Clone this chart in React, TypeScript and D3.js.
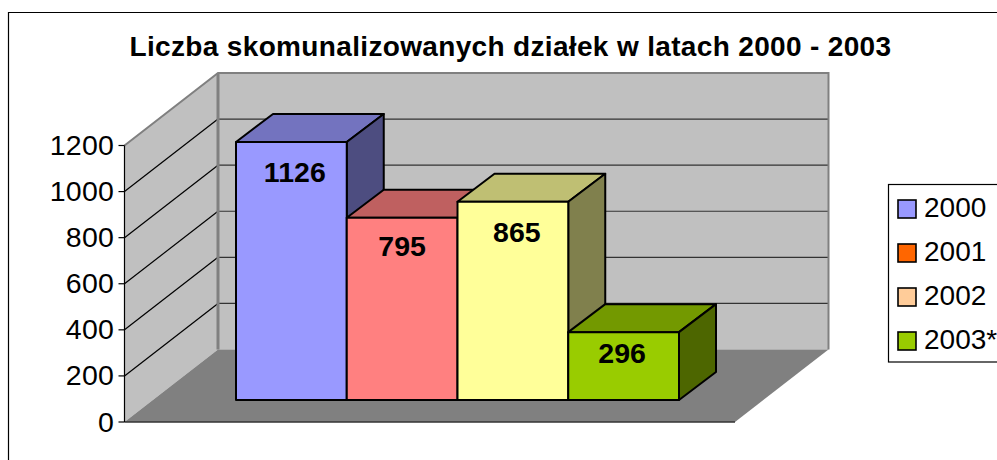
import React from "react";
import * as d3 from "d3";

const title = "Liczba skomunalizowanych działek w latach 2000 - 2003";
const categories = ["2000", "2001", "2002", "2003*"];
const values = [1126, 795, 865, 296];
const barColors = ["#9999ff", "#ff8080", "#ffff99", "#99cc00"];
const topColors = ["#7373bf", "#bf6060", "#bfbf73", "#739900"];
const sideColors = ["#4d4d80", "#804040", "#80804d", "#4d6600"];
const legendColors = ["#9999ff", "#ff6600", "#ffcc99", "#99cc00"];
const ticks = [0, 200, 400, 600, 800, 1000, 1200];
const labelNudge = [3.5, 0, 4, -1.5];
const labelDrop = [40, 38.5, 40, 31];

const FONT = "'Liberation Sans', Arial, sans-serif";
const axisX = 124.5;
const wallDx = 93.5;
const wallDy = 72.5;
const floorWidth = 610.5;
const barDx = 37;
const barDy = 28;
const barBase = 400;

const y = d3.scaleLinear().domain([0, 1200]).range([422, 145.5]);
const barHeight = d3.scaleLinear().domain([0, 1200]).range([0, 275]);
const x = d3.scaleBand<string>().domain(categories).range([236, 679]).padding(0);

const pts = (p: [number, number][]) => p.map((q) => q.join(",")).join(" ");

export default function App() {
  const backL = axisX + wallDx;
  const backR = backL + floorWidth;
  const y0 = y(0);
  const yTop = y(1200);
  return (
    <svg
      width={997}
      height={460}
      viewBox="0 0 997 460"
      style={{ position: "absolute", left: 0, top: 0, display: "block", background: "#fff" }}
      fontFamily={FONT}
    >
      <path d="M8.5 460V12.5H997" fill="none" stroke="#000" strokeWidth={1.2} />
      <text x={510.5} y={56} textAnchor="middle" fontSize={28} letterSpacing={0.34} fontWeight="bold" fill="#000">
        {title}
      </text>

      {/* walls */}
      <polygon
        points={pts([[backL, yTop - wallDy], [backR, yTop - wallDy], [backR, y0 - wallDy], [backL, y0 - wallDy]])}
        fill="#c0c0c0"
      />
      <polygon
        points={pts([[axisX, yTop], [backL, yTop - wallDy], [backL, y0 - wallDy], [axisX, y0]])}
        fill="#c0c0c0"
      />
      <polygon
        points={pts([[axisX, y0], [axisX + floorWidth, y0], [backR, y0 - wallDy], [backL, y0 - wallDy]])}
        fill="#808080"
      />
      {ticks.slice(1, -1).map((t) => (
        <g key={t} fill="none" stroke="#000" strokeWidth={1.2}>
          <line x1={axisX} y1={y(t)} x2={backL} y2={y(t) - wallDy} />
          <line x1={backL} y1={y(t) - wallDy} x2={backR} y2={y(t) - wallDy} stroke="#333" />
        </g>
      ))}
      <polyline
        points={pts([[axisX, yTop], [backL, yTop - wallDy], [backR, yTop - wallDy], [backR, y0 - wallDy]])}
        fill="none"
        stroke="#808080"
        strokeWidth={2}
      />
      <line x1={backL} y1={yTop - wallDy} x2={backL} y2={y0 - wallDy} stroke="#808080" strokeWidth={3} />
      <line x1={axisX} y1={y0} x2={axisX + floorWidth} y2={y0} stroke="#333" strokeWidth={1.4} />
      <line x1={axisX} y1={yTop} x2={axisX} y2={y0} stroke="#000" strokeWidth={1.2} />

      {/* y axis */}
      {ticks.map((t) => (
        <g key={t}>
          <line x1={axisX - 6} y1={y(t)} x2={axisX} y2={y(t)} stroke="#000" strokeWidth={1.2} />
          <text x={114} y={y(t) + 9.5} textAnchor="end" fontSize={28.5} letterSpacing={0.2} fill="#000">
            {t}
          </text>
        </g>
      ))}

      {/* bars */}
      {categories.map((c, i) => {
        const l = x(c)!;
        const r = l + x.bandwidth();
        const t = barBase - barHeight(values[i]);
        return (
          <g key={c} stroke="#000" strokeWidth={2} strokeLinejoin="round">
            <polygon
              points={pts([[l, t], [l + barDx, t - barDy], [r + barDx, t - barDy], [r, t]])}
              fill={topColors[i]}
            />
            <polygon
              points={pts([[r, t], [r + barDx, t - barDy], [r + barDx, barBase - barDy], [r, barBase]])}
              fill={sideColors[i]}
            />
            <rect x={l} y={t} width={x.bandwidth()} height={barBase - t} fill={barColors[i]} />
          </g>
        );
      })}
      {categories.map((c, i) => (
        <text
          key={c}
          x={x(c)! + x.bandwidth() / 2 + labelNudge[i]}
          y={barBase - barHeight(values[i]) + labelDrop[i]}
          textAnchor="middle"
          fontSize={28.5}
          letterSpacing={0.1}
          fontWeight="bold"
          fill="#000"
        >
          {values[i]}
        </text>
      ))}

      {/* legend */}
      <rect x={888.5} y={184.5} width={120} height={177.5} fill="#fff" stroke="#000" strokeWidth={1.2} />
      {categories.map((c, i) => {
        const cy = 209 + i * 44;
        return (
          <g key={c}>
            <rect x={898} y={cy - 9} width={18} height={18} fill={legendColors[i]} stroke="#000" strokeWidth={1.6} />
            <text x={924} y={cy + 7.5} fontSize={28} fill="#000">
              {c}
            </text>
          </g>
        );
      })}
    </svg>
  );
}
